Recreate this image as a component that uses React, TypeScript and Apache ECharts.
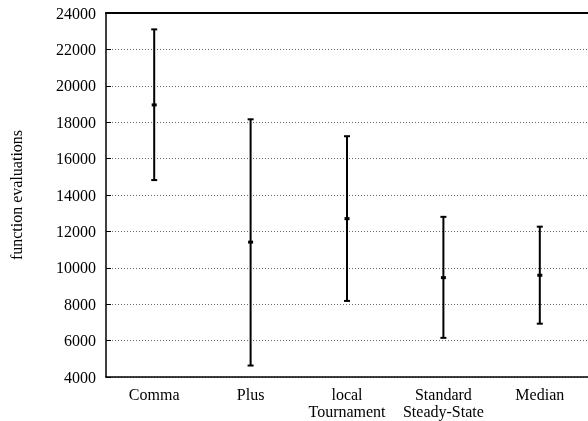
import React, { useEffect, useRef } from "react";
import * as echarts from "echarts";

const categories = ["Comma", "Plus", "local\nTournament", "Standard\nSteady-State", "Median"];
const lowValues = [14820, 4630, 8180, 6150, 6930];
const midValues = [18950, 11410, 12700, 9460, 9590];
const highValues = [23100, 18160, 17230, 12800, 12260];
const yTicks = { min: 4000, max: 24000, interval: 2000 };
const yName = "function evaluations";

const FONT = "Liberation Serif";

export default function App() {
  const ref = useRef<HTMLDivElement>(null);
  useEffect(() => {
    if (!ref.current) return;
    const chart = echarts.init(ref.current, undefined, { renderer: "svg" });
    const data = categories.map((_, i) => [i, lowValues[i], midValues[i], highValues[i]]);
    chart.setOption({
      animation: false,
      textStyle: { fontFamily: FONT },
      grid: { left: 105, right: -4, top: 13, bottom: 44, containLabel: false },
      xAxis: [
        {
          type: "category",
          data: categories,
          position: "bottom",
          boundaryGap: true,
          axisLine: { lineStyle: { color: "#000", width: 1.5 } },
          axisTick: { inside: true, alignWithLabel: true, interval: 0, length: 5, lineStyle: { color: "#000", width: 1 } },
          axisLabel: { interval: 0, color: "#000", fontFamily: FONT, fontSize: 16, lineHeight: 17, margin: 9 },
          splitLine: { show: false },
        },
        {
          type: "category",
          data: categories,
          position: "top",
          boundaryGap: true,
          axisLine: { lineStyle: { color: "#000", width: 2 } },
          axisTick: { inside: true, alignWithLabel: true, interval: 0, length: 5, lineStyle: { color: "#000", width: 1 } },
          axisLabel: { show: false, interval: 0 },
          splitLine: { show: false },
        },
      ],
      yAxis: {
        type: "value",
        min: yTicks.min,
        max: yTicks.max,
        interval: yTicks.interval,
        name: yName,
        nameLocation: "middle",
        nameGap: 82,
        nameTextStyle: { color: "#000", fontFamily: FONT, fontSize: 16 },
        axisLine: { show: true, lineStyle: { color: "#000", width: 1.5 } },
        axisTick: { show: true, inside: true, length: 5, lineStyle: { color: "#000" } },
        axisLabel: { color: "#000", fontFamily: FONT, fontSize: 16, margin: 10, formatter: (v: number) => String(v) },
        splitLine: { show: true, lineStyle: { color: "#666", type: [1, 2], width: 1 } },
      },
      series: [
        {
          type: "custom",
          xAxisIndex: 0,
          data,
          renderItem: (params: any, api: any) => {
            const x = api.value(0);
            const lo = api.coord([x, api.value(1)]);
            const mid = api.coord([x, api.value(2)]);
            const hi = api.coord([x, api.value(3)]);
            const capW = 3;
            const style = { stroke: "#000", lineWidth: 2 };
            return {
              type: "group",
              children: [
                { type: "line", shape: { x1: lo[0], y1: lo[1], x2: hi[0], y2: hi[1] }, style },
                { type: "line", shape: { x1: hi[0] - capW, y1: hi[1], x2: hi[0] + capW, y2: hi[1] }, style },
                { type: "line", shape: { x1: lo[0] - capW, y1: lo[1], x2: lo[0] + capW, y2: lo[1] }, style },
                { type: "rect", shape: { x: mid[0] - 2.5, y: mid[1] - 1.5, width: 5, height: 3 }, style: { fill: "#000" } },
              ],
            };
          },
        },
      ],
    });
    return () => chart.dispose();
  }, []);
  return <div ref={ref} style={{ position: "fixed", left: 0, top: 0, width: 588, height: 421 }} />;
}
